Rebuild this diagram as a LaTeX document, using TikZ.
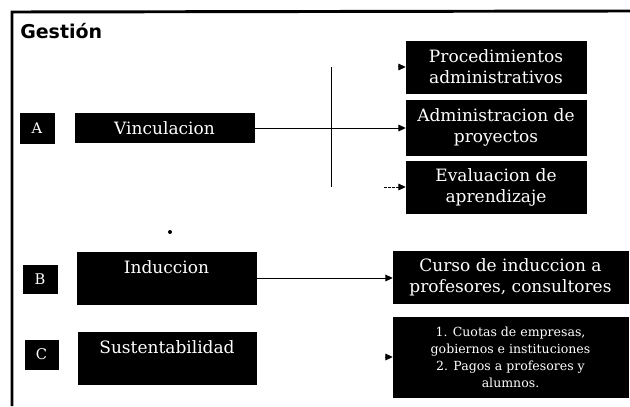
\documentclass[tikz,border=0pt]{standalone}
\usepackage{fontspec}
\setmainfont{DejaVu Serif}
\newfontfamily\titlefont{DejaVu Sans}
\usetikzlibrary{arrows.meta}

\tikzset{
  blackbox/.style={fill=black, draw=black, text=white, inner sep=0pt, align=center,
    font=\fontsize{12.75}{15.75}\selectfont},
  letterbox/.style={blackbox, font=\fontsize{11}{13}\selectfont},
  smallbox/.style={blackbox, font=\fontsize{9.4}{12.75}\selectfont},
  conn/.style={line width=0.75pt, -{Triangle[length=5.5pt,width=5pt]}}
}

\begin{document}
\begin{tikzpicture}[x=0.75pt,y=0.75pt,yscale=-1,xscale=1]
\useasboundingbox (0,0) rectangle (630,406);

%Frame
\draw [line width=2.2pt] (12,406) -- (12,12) -- (630,11) ;

% Text Node
\node (gestion) [anchor=west, inner sep=0pt, font=\titlefont\bfseries\fontsize{14.25}{16}\selectfont] at (20,31) {Gestión};

%Row A
\node (la) [letterbox, minimum width=25.5pt, minimum height=22.5pt] at (37,128) {A};
\node (vinc) [blackbox, minimum width=134.25pt, minimum height=22pt] at (164.5,128) {Vinculacion};
\node (proc) [blackbox, minimum width=135pt, minimum height=39pt] at (496,67) {Procedimientos\\administrativos};
\node (adm) [blackbox, minimum width=135pt, minimum height=41.25pt] at (496,127.5) {Administracion de\\proyectos};
\node (eval) [blackbox, minimum width=135pt, minimum height=39pt] at (496,187) {Evaluacion de\\aprendizaje};

%Row B
\node (lb) [letterbox, minimum width=25.5pt, minimum height=21pt] at (40,279) {B};
\node (ind) [blackbox, minimum width=134.25pt, minimum height=39pt] at (166.5,278) {Induccion\\~};
\node (curso) [blackbox, minimum width=176.25pt, minimum height=39pt] at (510.5,277) {Curso de induccion a\\profesores, consultores};

%Row C
\node (lc) [letterbox, minimum width=24.75pt, minimum height=21.75pt] at (41.5,354.5) {C};
\node (sust) [blackbox, minimum width=133.5pt, minimum height=39pt] at (167,358) {Sustentabilidad\\~};
\node (cuotas) [smallbox, minimum width=176.25pt, minimum height=60pt] at (510.5,357) {1. Cuotas de empresas,\\gobiernos e instituciones\\2. Pagos a profesores y\\alumnos.};

%Straight Lines
\coordinate (vtop) at (331,67);
\coordinate (vbot) at (331,187);
\draw [line width=0.75pt] (vtop) -- (vbot) ;
\draw [conn] (vinc.east) -- (adm.west |- vinc.east) ;
\coordinate (pstub) at (398,67);
\draw [conn] (pstub) -- (proc.west) ;
\coordinate (estub) at (384,187);
\draw [conn, dashed, dash pattern=on 2pt off 1pt] (estub) -- (eval.west) ;
\draw [conn] (ind.east) -- (curso.west |- ind.east) ;
\coordinate (cstub) at (385,357);
\draw [conn] (cstub) -- (cuotas.west) ;

%Shape: Circle
\fill (170,232) circle (1.5pt) ;

\end{tikzpicture}
\end{document}
